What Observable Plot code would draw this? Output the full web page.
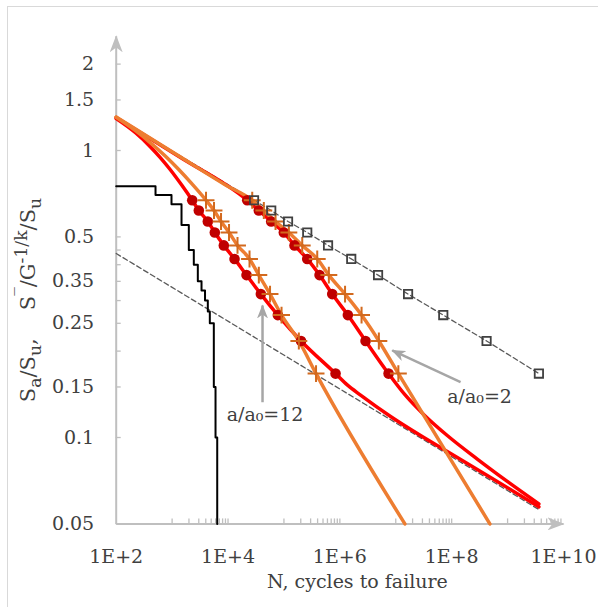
<!DOCTYPE html>
<html><head><meta charset="utf-8">
<script src="https://cdn.jsdelivr.net/npm/d3@7"></script>
<script src="https://cdn.jsdelivr.net/npm/@observablehq/plot@0.6"></script>
<style>
html,body{margin:0;padding:0;background:#fff;}
#wrap{position:relative;width:598px;height:607px;overflow:hidden;font-family:"DejaVu Serif",serif;}
#border{position:absolute;left:7px;top:6px;width:640px;height:640px;border:1.5px solid #d9d9d9;box-sizing:border-box;}
#chart{position:absolute;left:0;top:0;}
#ytitle{position:absolute;left:28px;top:300px;transform:translate(-50%,-50%) rotate(-90deg);white-space:nowrap;font-family:"DejaVu Serif",serif;font-size:21px;color:#404040;}
#ytitle sub,#ytitle sup{font-size:82%;}
#ytitle .gap{display:inline-block;width:28px;}
</style></head><body>
<div id="wrap"><div id="border"></div><div id="chart"></div>
<div id="ytitle">S<sub>a</sub>/S<sub>u</sub>,<span class="gap"></span>S<sup>&#8254;</sup>/G<sup>-1/k</sup>/S<sub>u</sub></div></div>
<script>
// ---------- axes ----------
const xDomain = [1e2, 1e10];
const yDomain = [0.05, 2.5];
const xMajorTicks = [1e2, 1e4, 1e6, 1e8, 1e10];
const xMinorTicks = [1e3,2e3,3e3,4e3,5e3,6e3,7e3,8e3,9e3,1e4,
  1e5,2e5,3e5,4e5,5e5,6e5,7e5,8e5,9e5,1e6,
  1e7,2e7,3e7,4e7,5e7,6e7,7e7,8e7,9e7,1e8,
  1e9,2e9,3e9,4e9,5e9,6e9,7e9,8e9,9e9];
const yTickMarks = [0.05,0.1,0.15,0.2,0.25,0.3,0.35,0.4,0.45,0.5,1,1.5,2];
const yTickLabels = [0.05,0.1,0.15,0.25,0.35,0.5,1,1.5,2];

// ---------- data ----------
const stressLevels = [0.671, 0.618, 0.566, 0.518, 0.467, 0.419, 0.368, 0.316, 0.267, 0.217, 0.167];
const dotsLowN   = [2289, 3004, 4351, 5805, 8411, 13070, 21420, 38630, 77790, 202200, 837800];
const crossLowN  = [4040, 5617, 7496, 10420, 14780, 24240, 35560, 56400, 90600, 184800, 375100];
const dotsHighN  = [22050, 35560, 59260, 99590, 154700, 261100, 433500, 731100, 1390000, 2883000, 7433000];
const crossHighN = [27100, 43690, 70740, 122400, 212500, 394200, 635800, 1239000, 2445000, 4986000, 11130000];
const squareN    = [29190, 59260, 118400, 261100, 615000, 1599000, 4824000, 16600000, 70740000, 421000000, 3630000000];

// red model curve, a/a0 = 12
const redLowHeadN = [100, 221.4, 410.8, 620.2, 936.3, 1473];
const redLowHeadS = [1.2925, 1.1535, 1.0293, 0.9431, 0.8553, 0.7594];
const redLowTailN = [1.373e6, 2.346e6, 8.075e6, 2.778e7, 8.343e7, 4.965e8, 3.63e9];
const redLowTailS = [0.1522, 0.1405, 0.1184, 0.1016, 0.0894, 0.0726, 0.0573];
// red model curve, a/a0 = 2
const redHighHeadN = [100, 1414];
const redHighHeadS = [1.3032, 0.9454];
const redHighTailN = [1.497e7, 3.182e7, 8.343e7, 2.871e8, 9.876e8, 3.63e9];
const redHighTailS = [0.1401, 0.1201, 0.1016, 0.0841, 0.0703, 0.0587];
// orange model curve, a/a0 = 12
const orangeLowHeadN = [100, 221.4, 410.8, 762, 1302, 2289];
const orangeLowHeadS = [1.3051, 1.1720, 1.0637, 0.9545, 0.8601, 0.7631];
const orangeLowTailN = [1.456e7];
const orangeLowTailS = [0.05];
// orange model curve, a/a0 = 2
const orangeHighHeadN = [100, 1414, 9023];
const orangeHighHeadS = [1.3085, 0.9492, 0.7584];
const orangeHighTailN = [4.825e8];
const orangeHighTailS = [0.05];
// dashed lines
const upperDashHeadN = [100];
const upperDashHeadS = [1.3032];
const lowerDashN = [100, 3.63e9];
const lowerDashS = [0.4377, 0.0561];
// black step curve
const stepN = [100, 505, 975, 1473, 1990, 2444, 2883, 3357, 3878, 4351, 4725, 5572, 5976, 6410];
const stepS = [0.75, 0.70, 0.65, 0.55, 0.45, 0.40, 0.35, 0.325, 0.30, 0.275, 0.25, 0.15, 0.10, 0.05];
// annotations
const arrowFromN = [41400, 1.443e8], arrowFromS = [0.1327, 0.156];
const arrowToN = [41400, 8.65e6], arrowToS = [0.2884, 0.201];
const labelText = ["a/a\u2080=12", "a/a\u2080=2"];
const labelN = [45920, 3.156e8], labelS = [0.1202, 0.139];

// ---------- helpers ----------
const zip = (N, S) => N.map((n, i) => ({N: n, S: S[i]}));
const zipL = (N) => zip(N, stressLevels);
const redLow = [...zip(redLowHeadN, redLowHeadS), ...zipL(dotsLowN), ...zip(redLowTailN, redLowTailS)];
const redHigh = [...zip(redHighHeadN, redHighHeadS), ...zipL(dotsHighN), ...zip(redHighTailN, redHighTailS)];
const orangeLow = [...zip(orangeLowHeadN, orangeLowHeadS), ...zipL(crossLowN), ...zip(orangeLowTailN, orangeLowTailS)];
const orangeHigh = [...zip(orangeHighHeadN, orangeHighHeadS), ...zipL(crossHighN), ...zip(orangeHighTailN, orangeHighTailS)];
const upperDash = [...zip(upperDashHeadN, upperDashHeadS), ...zipL(squareN)];
const lowerDash = zip(lowerDashN, lowerDashS);
const step = zip(stepN, stepS);
const arrows = arrowFromN.map((n, i) => ({x1: n, y1: arrowFromS[i], x2: arrowToN[i], y2: arrowToS[i]}));
const labels = labelText.map((t, i) => ({t, N: labelN[i], S: labelS[i]}));

const NS = "http://www.w3.org/2000/svg";
function stealth(len, wid) {
  return function (color) {
    const m = document.createElementNS(NS, "marker");
    m.setAttribute("viewBox", `${-len} ${-wid/2} ${len + 1} ${wid}`);
    m.setAttribute("markerWidth", len + 1);
    m.setAttribute("markerHeight", wid);
    m.setAttribute("markerUnits", "userSpaceOnUse");
    m.setAttribute("orient", "auto");
    m.setAttribute("refX", 0);
    m.setAttribute("refY", 0);
    const p = document.createElementNS(NS, "path");
    p.setAttribute("d", `M1,0 L${-len},${-wid/2} L${-len*0.7},0 L${-len},${wid/2} Z`);
    p.setAttribute("fill", color);
    p.setAttribute("stroke", "none");
    m.appendChild(p);
    return m;
  };
}

const AXIS = "#bfbfbf", TEXT = "#404040", RED = "#ff0000", DOT = "#c00000",
      ORANGE = "#ed7d31", CROSS = "#d2691e", DASH = "#595959";

const chart = Plot.plot({
  width: 598, height: 607,
  marginLeft: 115.7, marginRight: 35, marginTop: 35.8, marginBottom: 83.6,
  x: {type: "log", domain: xDomain},
  y: {type: "log", domain: yDomain},
  style: {fontFamily: "DejaVu Serif", fontSize: "19px", color: TEXT, background: "transparent"},
  marks: [
    Plot.axisX({ticks: xMinorTicks, tickSize: -5, fill: "none", stroke: AXIS, strokeWidth: 1.3, label: null}),
    Plot.axisX({ticks: xMajorTicks, tickSize: 0, tickPadding: 26, fill: TEXT, label: null,
      tickFormat: d => "1E+" + Math.round(Math.log10(d))}),
    Plot.axisY({ticks: yTickMarks, tickSize: -5, fill: "none", stroke: AXIS, strokeWidth: 1.3, label: null}),
    Plot.axisY({ticks: yTickLabels, tickSize: 0, tickPadding: 22, fill: TEXT, label: null,
      tickFormat: d => String(d)}),
    Plot.link([0], {x1: () => xDomain[0], y1: () => yDomain[0], x2: () => xDomain[0], y2: () => yDomain[1],
      stroke: AXIS, strokeWidth: 2, markerEnd: stealth(16, 13)}),
    Plot.link([0], {x1: () => xDomain[0], y1: () => yDomain[0], x2: () => xDomain[1], y2: () => yDomain[0],
      stroke: AXIS, strokeWidth: 2, markerEnd: stealth(16, 13)}),
    Plot.line(lowerDash, {x: "N", y: "S", stroke: DASH, strokeWidth: 1.3, strokeDasharray: "5,3"}),
    Plot.line(upperDash, {x: "N", y: "S", stroke: DASH, strokeWidth: 1.3, strokeDasharray: "5,3"}),
    Plot.line(step, {x: "N", y: "S", curve: "step-after", stroke: "#000", strokeWidth: 2}),
    Plot.line(redLow, {x: "N", y: "S", curve: "monotone-x", stroke: RED, strokeWidth: 3.5}),
    Plot.line(redHigh, {x: "N", y: "S", curve: "monotone-x", stroke: RED, strokeWidth: 3.5}),
    Plot.line(orangeLow, {x: "N", y: "S", curve: "monotone-x", stroke: ORANGE, strokeWidth: 3.5}),
    Plot.line(orangeHigh, {x: "N", y: "S", curve: "monotone-x", stroke: ORANGE, strokeWidth: 3.5}),
    Plot.dot(zipL(dotsLowN), {x: "N", y: "S", r: 5.3, fill: DOT}),
    Plot.dot(zipL(dotsHighN), {x: "N", y: "S", r: 5.3, fill: DOT}),
    Plot.dot(zipL(crossLowN), {x: "N", y: "S", symbol: "plus", r: 5.5, stroke: CROSS, strokeWidth: 2}),
    Plot.dot(zipL(crossHighN), {x: "N", y: "S", symbol: "plus", r: 5.5, stroke: CROSS, strokeWidth: 2}),
    Plot.dot(zipL(squareN), {x: "N", y: "S", symbol: "square", r: 4.7, stroke: TEXT, strokeWidth: 1.8, fill: "none"}),
    Plot.link(arrows, {x1: "x1", y1: "y1", x2: "x2", y2: "y2", stroke: "#a6a6a6", strokeWidth: 2.5,
      markerEnd: stealth(13, 11)}),
    Plot.text(labels, {x: "N", y: "S", text: "t", fill: TEXT, fontSize: 19}),
    Plot.text(["N, cycles to failure"], {frameAnchor: "bottom", dx: 17.6, dy: 64.5, fill: TEXT, fontSize: 19})
  ]
});
document.getElementById("chart").appendChild(chart);
</script>
</body></html>
